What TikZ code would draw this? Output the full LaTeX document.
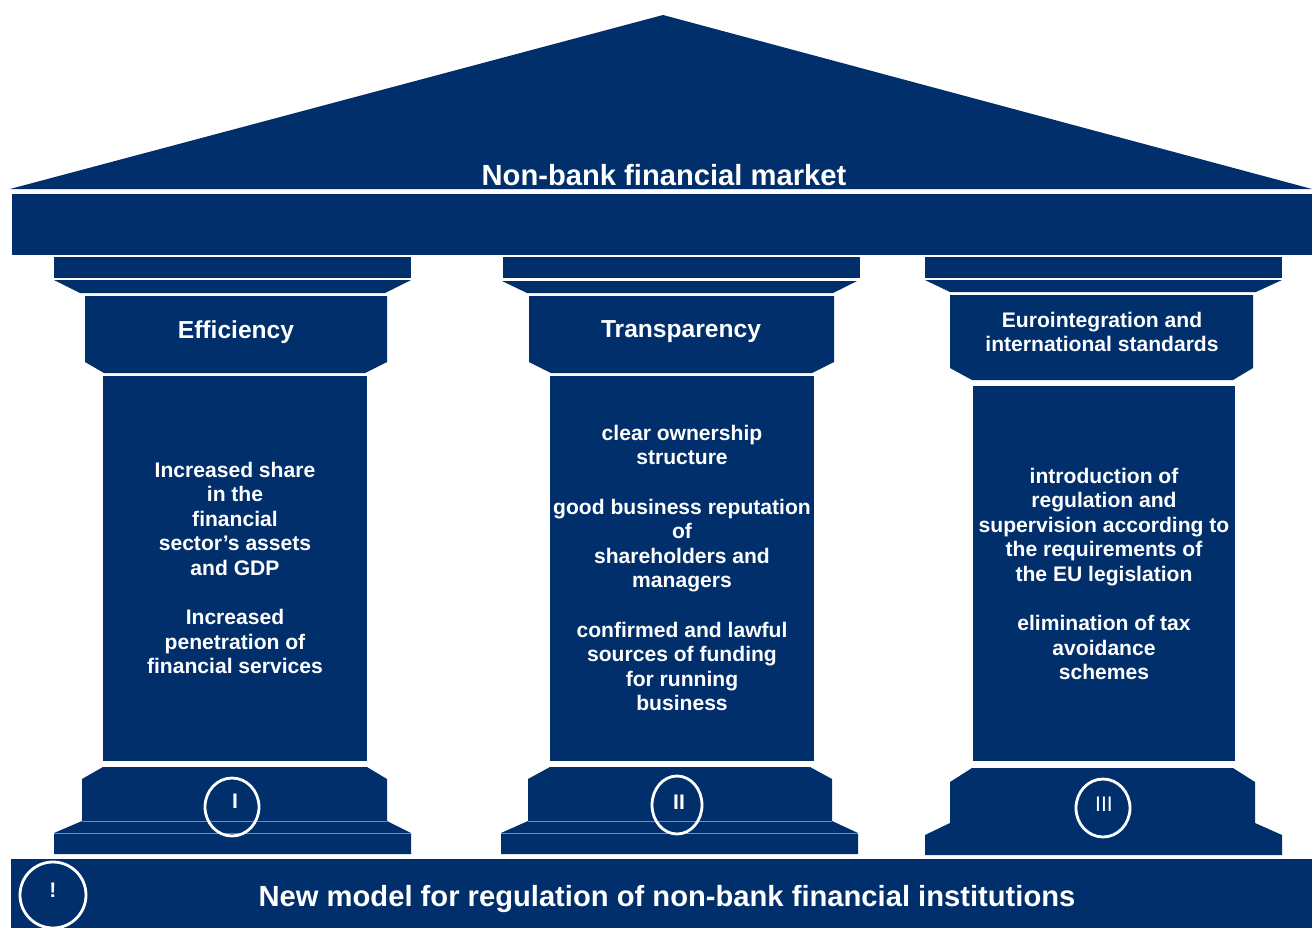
\documentclass[tikz,border=0pt]{standalone}
\usepackage{fontspec}
\setmainfont{Liberation Sans}
\definecolor{navy}{RGB}{0,47,108}
\tikzset{
  navyfill/.style={fill=navy},
  seamline/.style={draw=navy!55!white, line width=0.4pt},
  ringline/.style={draw=white, line width=1.6pt},
  headtext/.style={text=white, font=\fontsize{14}{16.1}\selectfont\bfseries, align=center},
  bodytext/.style={text=white, font=\fontsize{12}{14}\selectfont\bfseries, align=center},
  titletext/.style={text=white, font=\fontsize{16.6}{19}\selectfont\bfseries},
  numtext/.style={text=white, font=\fontsize{12}{14}\selectfont\bfseries},
}
\begin{document}
\begin{tikzpicture}[x=0.02cm, y=-0.02cm]
        \clip (0,0) rectangle (1312,927);

        % 屋顶和横梁
        \fill[navyfill] (10,189) -- (663,15) -- (1312,189) -- cycle;
        \fill[navyfill] (12,194) rectangle (1312,255);
        \node[titletext] (title) at (664,175) {Non-bank financial market};

        % 第一根柱子
        \fill[navyfill] (54,257) rectangle (411,278);
        \fill[navyfill] (54,280) -- (411,280) -- (385,293) -- (80,293) -- cycle;
        \fill[navyfill] (85,296) -- (387,296) -- (387,362) -- (365,373) -- (104,373) -- (85,362) -- cycle;
        \fill[navyfill] (103,376) rectangle (367,761);
        \fill[navyfill] (103,767) -- (367,767) -- (387,779) -- (387,821) -- (82,821) -- (82,779) -- cycle;
        \fill[navyfill] (82,821) -- (387,821) -- (411,833) -- (411,854) -- (54,854) -- (54,833) -- cycle;
        \draw[seamline] (82,821) -- (387,821);
        \draw[seamline] (54,833) -- (411,833);

        % 第二根柱子
        \fill[navyfill] (503,257) rectangle (860,278);
        \fill[navyfill] (502,281) -- (857,281) -- (833,293) -- (527,293) -- cycle;
        \fill[navyfill] (529,296) -- (834,296) -- (834,362) -- (812,373) -- (551,373) -- (529,362) -- cycle;
        \fill[navyfill] (550,376) rectangle (814,761);
        \fill[navyfill] (550,767) -- (810,767) -- (832,779) -- (832,821) -- (528,821) -- (528,779) -- cycle;
        \fill[navyfill] (528,821) -- (832,821) -- (858,833) -- (858,854) -- (501,854) -- (501,833) -- cycle;
        \draw[seamline] (528,821) -- (832,821);
        \draw[seamline] (501,833) -- (858,833);

        % 第三根柱子
        \fill[navyfill] (925,257) rectangle (1282,278);
        \fill[navyfill] (925,280) -- (1282,280) -- (1256,292) -- (950,292) -- cycle;
        \fill[navyfill] (950,295) -- (1253,295) -- (1253,368) -- (1233,380) -- (972,380) -- (950,368) -- cycle;
        \fill[navyfill] (973,386) rectangle (1235,761);
        \fill[navyfill] (972,768) -- (1233,768) -- (1255,782) -- (1255,823) -- (950,823) -- (950,782) -- cycle;
        \fill[navyfill] (950,823) -- (1255,823) -- (1282,835) -- (1282,855) -- (925,855) -- (925,835) -- cycle;

        % 柱头文字
        \node[headtext] (efficiency) at (236,332) {Efficiency};
        \node[headtext] (transparency) at (681,332) {Transparency};
        \node[bodytext] (euro) at (1102,332) {Eurointegration and\\international standards};

        % 柱身文字
        \node[bodytext] (txtone) at (235,568) {Increased share\\in the\\financial\\sector’s assets\\and GDP\\[14pt]
            Increased\\penetration of\\financial services};
        \node[bodytext] (txttwo) at (682,568) {clear ownership\\structure\\[14pt]
            good business reputation\\of\\shareholders and\\managers\\[14pt]
            confirmed and lawful\\sources of funding\\for running\\business};
        \node[bodytext] (txtthree) at (1104,574) {introduction of\\regulation and\\supervision according to\\the requirements of\\the EU legislation\\[14pt]
            elimination of tax\\avoidance\\schemes};

        % 柱基上的编号
        \draw[ringline] (232,807) ellipse [x radius=27, y radius=29];
        \draw[ringline] (677,805) ellipse [x radius=25, y radius=29];
        \draw[ringline] (1103,808) ellipse [x radius=27, y radius=29];
        \node[numtext] (numone) at (235,801) {I};
        \node[numtext] (numtwo) at (679,802) {II};
        \node[numtext, font=\fontsize{12}{14}\selectfont] (numthree) at (1104,804) {III};

        % 底部地基
        \fill[navyfill] (11,859) rectangle (1312,930);
        \draw[ringline] (53,895) circle (33);
        \node[numtext] (bang) at (53,890) {!};
        \node[titletext] (model) at (667,899) {New model for regulation of non-bank financial institutions};
    \end{tikzpicture}
\end{document}
